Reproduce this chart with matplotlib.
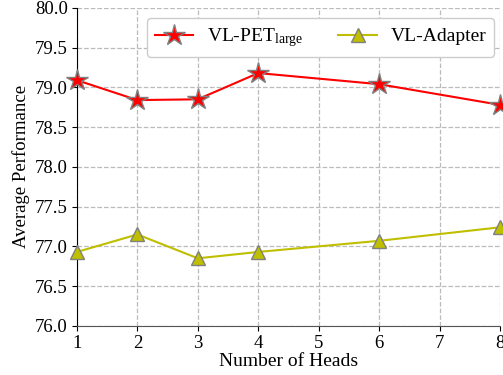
import matplotlib
matplotlib.use("Agg")
import matplotlib.pyplot as plt

plt.rcParams['font.family'] = ['Liberation Serif', 'DejaVu Serif']
plt.rcParams['mathtext.fontset'] = 'custom'
plt.rcParams['mathtext.rm'] = 'Liberation Serif'
plt.rcParams['mathtext.it'] = 'Liberation Serif:italic'

heads = [1, 2, 3, 4, 6, 8]
vlpet = [79.09, 78.84, 78.85, 79.18, 79.04, 78.78]
vladapter = [76.93, 77.15, 76.85, 76.93, 77.07, 77.24]
xticks = [1, 2, 3, 4, 5, 6, 7, 8]
yticks = [76.0, 76.5, 77.0, 77.5, 78.0, 78.5, 79.0, 79.5, 80.0]

fig = plt.figure(figsize=(5.03, 3.75), dpi=100)
ax = fig.add_axes([0.153, 0.131, 0.841, 0.848])
ax.plot(heads, vlpet, color='red', marker='*', markersize=16, markeredgecolor='gray',
        markeredgewidth=1, linewidth=1.5, label=r'VL-PET$_{\rm large}$', clip_on=False, zorder=3)
ax.plot(heads, vladapter, color='#bfbf00', marker='^', markersize=10, markeredgecolor='gray',
        markeredgewidth=1, linewidth=1.5, label='VL-Adapter', clip_on=False, zorder=3)
ax.set_xlim(1, 8)
ax.set_ylim(76.0, 80.0)
ax.set_xticks(xticks)
ax.set_yticks(yticks)
ax.set_yticklabels([f'{v:.1f}' for v in yticks])
ax.tick_params(labelsize=13.5, pad=3)
ax.grid(True, linestyle='--', color='#bbbbbb', linewidth=0.9)
ax.set_axisbelow(True)
for s in ['top', 'right']:
    ax.spines[s].set_visible(False)
ax.spines['left'].set_color('black')
ax.spines['bottom'].set_color('#555555')
ax.set_xlabel('Number of Heads', fontsize=14, labelpad=1)
ax.set_ylabel('Average Performance', fontsize=13.5)
ax.legend(loc='upper right', ncol=2, fontsize=14, framealpha=1, edgecolor='#cccccc',
          handlelength=2.0, columnspacing=1.8, handletextpad=0.7,
          bbox_to_anchor=(1.0, 0.985), borderaxespad=0.3)
fig.savefig('out.png', dpi=100)
